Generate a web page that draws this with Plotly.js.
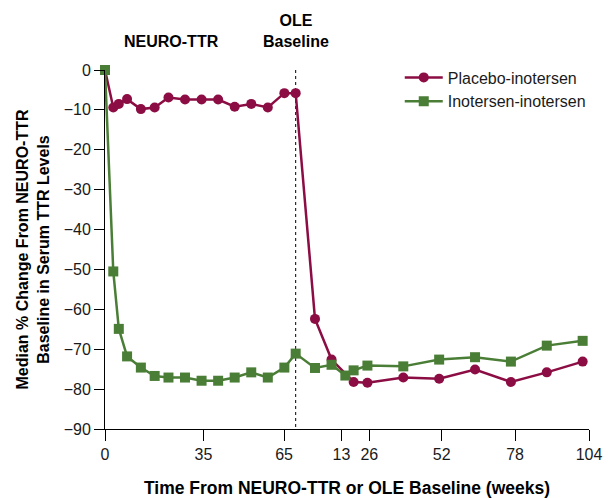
<!DOCTYPE html>
<html>
<head>
<meta charset="utf-8">
<script src="https://cdn.plot.ly/plotly-3.0.1.min.js"></script>
<style>
  html, body { margin: 0; padding: 0; background: #fff; }
  #chart { width: 608px; height: 498px; }
</style>
</head>
<body>
<div id="chart"></div>
<script>
// ---- Data ----
const NEURO_WEEKS = [0, 3, 5, 8, 13, 18, 23, 29, 35, 41, 47, 53, 59, 65];
const PLACEBO_NEURO = [0, -9.4, -8.5, -7.3, -9.8, -9.4, -6.9, -7.4, -7.4, -7.4, -9.2, -8.5, -9.4, -5.8];
const INOTERSEN_NEURO = [0, -50.5, -64.9, -71.8, -74.6, -76.7, -77.1, -77.1, -77.9, -77.9, -77.1, -75.8, -77.1, -74.6];

const PLACEBO_OLE_WEEKS = [0, 7, 13, 21, 26, 39, 52, 65, 78, 91, 104];
const PLACEBO_OLE = [-5.8, -62.4, -72.6, -78.2, -78.4, -77.1, -77.4, -75.1, -78.2, -75.8, -73.1];

const INOTERSEN_OLE_WEEKS = [0, 7, 13, 18, 21, 26, 39, 52, 65, 78, 91, 104];
const INOTERSEN_OLE = [-71.1, -74.7, -73.9, -76.6, -75.3, -74.1, -74.3, -72.6, -72.0, -73.1, -69.1, -67.9];

const SERIES_NAMES = ['Placebo-inotersen', 'Inotersen-inotersen'];
const X_TICK_LABELS = ['0', '35', '65', '13', '26', '52', '78', '104'];
const Y_TICK_VALUES = [0, -10, -20, -30, -40, -50, -60, -70, -80, -90];

// ---- Layout helpers ----
const OLE_OFFSET = 69.1;          // position of OLE baseline on the combined time axis
const X_TICK_POS = [0, 35.7, 64.9, 85.7, 95.8, 122.0, 148.6, 175.4];
const FONT = 'Liberation Sans, Arial, Helvetica, sans-serif';
const RED = '#8B0D43';
const GREEN = '#4A7E36';

const toCombined = (w) => OLE_OFFSET + w;

const placebo = {
  name: SERIES_NAMES[0],
  x: NEURO_WEEKS.concat(PLACEBO_OLE_WEEKS.map(toCombined)),
  y: PLACEBO_NEURO.concat(PLACEBO_OLE),
  mode: 'lines+markers',
  type: 'scatter',
  cliponaxis: false,
  line: { color: RED, width: 2.5 },
  marker: { color: RED, size: 10, symbol: 'circle' }
};

const inotersen = {
  name: SERIES_NAMES[1],
  x: NEURO_WEEKS.concat(INOTERSEN_OLE_WEEKS.map(toCombined)),
  y: INOTERSEN_NEURO.concat(INOTERSEN_OLE),
  mode: 'lines+markers',
  type: 'scatter',
  cliponaxis: false,
  line: { color: GREEN, width: 2.5 },
  marker: { color: GREEN, size: 10, symbol: 'square' }
};

const layout = {
  width: 608,
  height: 498,
  margin: { l: 105.3, r: 19, t: 70, b: 68.7 },
  paper_bgcolor: '#fff',
  plot_bgcolor: '#fff',
  font: { family: FONT, size: 16, color: '#1a1a1a' },
  showlegend: true,
  legend: {
    x: 0.609, y: 1.0265, xanchor: 'left', yanchor: 'top',
    itemwidth: 38,
    bgcolor: 'rgba(0,0,0,0)',
    font: { family: FONT, size: 16, color: '#1a1a1a' },
    tracegroupgap: 0
  },
  xaxis: {
    range: [0, 175.4],
    showgrid: false,
    zeroline: false,
    showline: true,
    linecolor: '#000',
    linewidth: 1,
    ticks: 'outside',
    ticklen: 11,
    tickcolor: '#000',
    tickwidth: 1,
    tickmode: 'array',
    tickvals: X_TICK_POS,
    ticktext: X_TICK_LABELS,
    tickfont: { family: FONT, size: 16, color: '#1a1a1a' },
    title: {
      text: '<b>Time From NEURO-TTR or OLE Baseline (weeks)</b>',
      font: { family: FONT, size: 17.5, color: '#000' },
      standoff: 20
    },
    fixedrange: true
  },
  yaxis: {
    range: [-90, 0],
    showgrid: false,
    zeroline: false,
    showline: true,
    linecolor: '#000',
    linewidth: 1,
    ticks: 'outside',
    ticklen: 10,
    tickcolor: '#000',
    tickwidth: 1,
    tickmode: 'array',
    tickvals: Y_TICK_VALUES,
    tickfont: { family: FONT, size: 16, color: '#1a1a1a' },
    title: {
      text: '<b>Median % Change From NEURO-TTR<br>Baseline in Serum TTR Levels</b>',
      font: { family: FONT, size: 16, color: '#000' },
      standoff: 10
    },
    fixedrange: true
  },
  shapes: [{
    type: 'line',
    xref: 'x', yref: 'y',
    x0: OLE_OFFSET, x1: OLE_OFFSET,
    y0: 0, y1: -90,
    line: { color: '#000', width: 1, dash: 'dot' },
    layer: 'below'
  }],
  annotations: [
    {
      text: '<b>NEURO-TTR</b>',
      xref: 'paper', yref: 'paper',
      x: 0.138, y: 1.0807, xanchor: 'center', yanchor: 'middle',
      showarrow: false,
      font: { family: FONT, size: 16, color: '#000' }
    },
    {
      text: '<b>OLE<br>Baseline</b>',
      xref: 'x', yref: 'paper',
      x: OLE_OFFSET, y: 1.11, xanchor: 'center', yanchor: 'middle',
      showarrow: false,
      font: { family: FONT, size: 16, color: '#000' }
    }
  ]
};

Plotly.newPlot('chart', [placebo, inotersen], layout, { displayModeBar: false, staticPlot: true });
</script>
</body>
</html>
